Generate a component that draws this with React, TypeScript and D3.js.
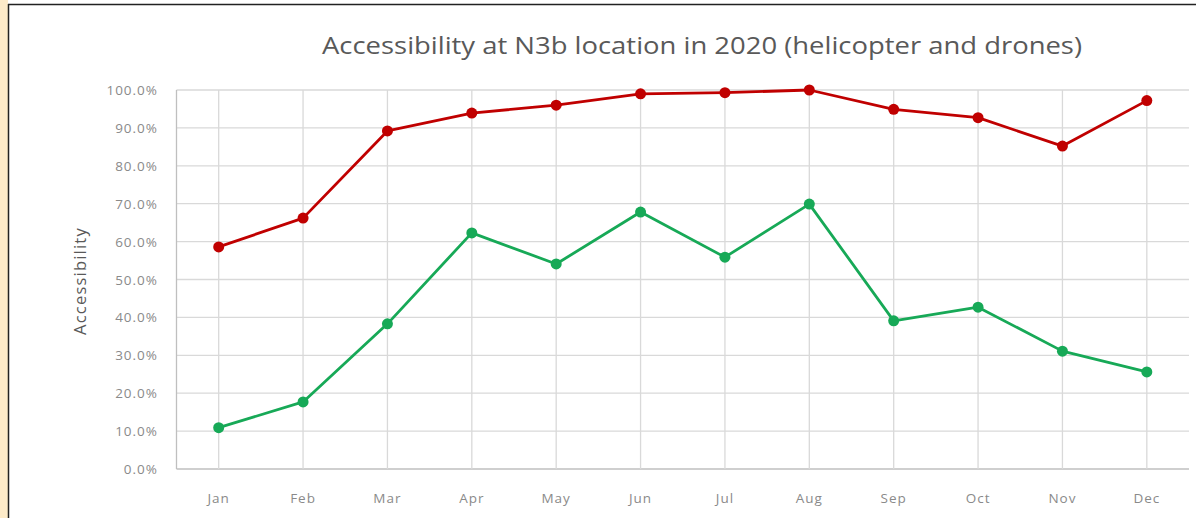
import React from "react";
import * as d3 from "d3";

// Monthly accessibility shares (percent)
const months = ["Jan", "Feb", "Mar", "Apr", "May", "Jun", "Jul", "Aug", "Sep", "Oct", "Nov", "Dec"];
const helicopter = [58.6, 66.2, 89.2, 93.9, 96.0, 99.0, 99.3, 100.0, 94.9, 92.7, 85.2, 97.2];
const drones = [10.9, 17.7, 38.3, 62.3, 54.1, 67.8, 55.9, 69.9, 39.1, 42.7, 31.1, 25.6];
const yTicks = [0, 10, 20, 30, 40, 50, 60, 70, 80, 90, 100];

const W = 1196;
const H = 518;
const plot = { left: 176.5, right: 1189, top: 90, bottom: 469 };
const font = "'Open Sans', 'Noto Sans', sans-serif";

export default function App() {
  const x = d3.scaleBand<string>().domain(months).range([plot.left, plot.right]).padding(0);
  const cx = (m: string) => (x(m) as number) + x.bandwidth() / 2;
  const y = d3.scaleLinear().domain([0, 100]).range([plot.bottom, plot.top]);

  const line = d3
    .line<number>()
    .x((_, i) => cx(months[i]))
    .y((v) => y(v));

  const series = [
    { values: helicopter, color: "#C00000" },
    { values: drones, color: "#17A957" },
  ];

  return (
    <svg
      width={W}
      height={H}
      style={{ position: "absolute", left: 0, top: 0, background: "#fff" }}
    >
      {/* frame */}
      <rect x={0} y={0} width={8} height={H} fill="#FDEBC9" />
      <line x1={8.5} x2={8.5} y1={4} y2={H} stroke="#222" strokeWidth={1.5} />
      <line x1={8} x2={W} y1={4.5} y2={4.5} stroke="#222" strokeWidth={1.5} />

      {/* title */}
      <text
        x={702}
        y={54}
        textAnchor="middle"
        fontFamily={font}
        fontSize={24}
        fill="#595959"
        textLength={760}
        lengthAdjust="spacingAndGlyphs"
      >
        Accessibility at N3b location in 2020 (helicopter and drones)
      </text>

      {/* horizontal grid */}
      {yTicks.map((t) => (
        <line
          key={"h" + t}
          x1={plot.left}
          x2={plot.right}
          y1={y(t)}
          y2={y(t)}
          stroke={t === 0 ? "#BFBFBF" : "#D9D9D9"}
          strokeWidth={1.3}
        />
      ))}
      {/* vertical grid at category centres */}
      {months.map((m) => (
        <line
          key={"v" + m}
          x1={cx(m)}
          x2={cx(m)}
          y1={plot.top}
          y2={plot.bottom}
          stroke="#D9D9D9"
          strokeWidth={1.3}
        />
      ))}
      <line x1={plot.left} x2={plot.left} y1={plot.top} y2={plot.bottom} stroke="#BFBFBF" strokeWidth={1.3} />

      {/* y tick labels */}
      {yTicks.map((t) => (
        <text
          key={"yl" + t}
          x={158}
          y={y(t) + 5}
          textAnchor="end"
          fontFamily={font}
          fontSize={13.5}
          letterSpacing={1}
          fill="#8A8A8A"
        >
          {t.toFixed(1) + "%"}
        </text>
      ))}

      {/* x tick labels */}
      {months.map((m) => (
        <text
          key={"xl" + m}
          x={cx(m)}
          y={503}
          textAnchor="middle"
          fontFamily={font}
          fontSize={13.5}
          letterSpacing={1}
          fill="#8A8A8A"
        >
          {m}
        </text>
      ))}

      {/* y axis title */}
      <text
        transform={`translate(86,${281}) rotate(-90)`}
        textAnchor="middle"
        fontFamily={font}
        fontSize={16.5}
        letterSpacing={1.2}
        fill="#595959"
      >
        Accessibility
      </text>

      {/* series */}
      {series.map((s, si) => (
        <g key={"s" + si}>
          <path d={line(s.values) || ""} fill="none" stroke={s.color} strokeWidth={2.8} strokeLinejoin="round" />
          {s.values.map((v, i) => (
            <circle key={i} cx={cx(months[i])} cy={y(v)} r={5.5} fill={s.color} />
          ))}
        </g>
      ))}
    </svg>
  );
}
